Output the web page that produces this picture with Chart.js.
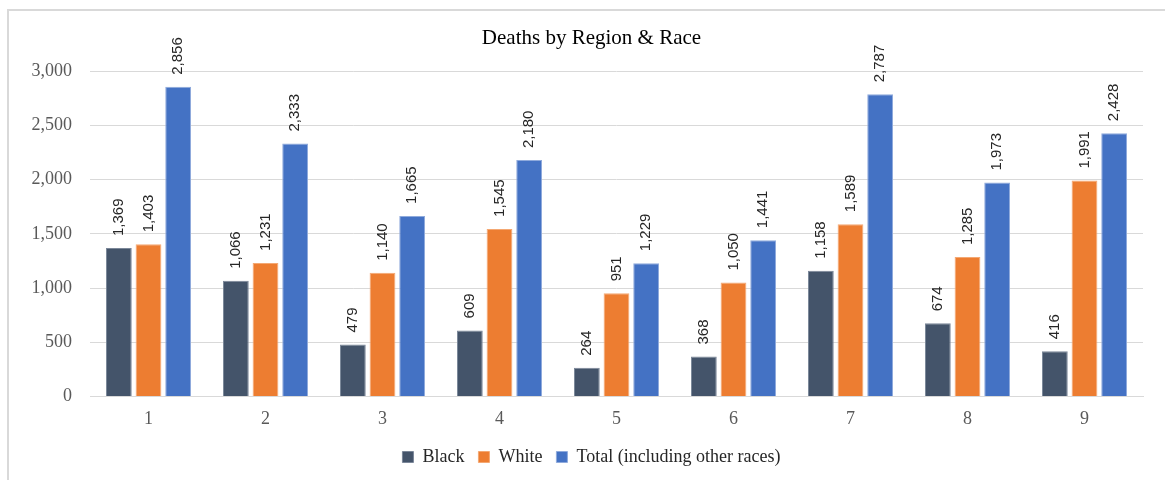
<!DOCTYPE html>
<html>
<head>
<meta charset="utf-8">
<script src="https://cdn.jsdelivr.net/npm/chart.js@4"></script>
<style>
  html, body { margin: 0; padding: 0; background: #fff; }
  #wrap { width: 1165px; height: 480px; position: relative; }
</style>
</head>
<body>
<div id="wrap"><canvas id="chart"></canvas></div>
<script>
// ── Data ──────────────────────────────────
const regions     = ["1", "2", "3", "4", "5", "6", "7", "8", "9"];
const blackDeaths = [1369, 1066, 479, 609, 264, 368, 1158, 674, 416];
const whiteDeaths = [1403, 1231, 1140, 1545, 951, 1050, 1589, 1285, 1991];
const totalDeaths = [2856, 2333, 1665, 2180, 1229, 1441, 2787, 1973, 2428];

const SERIF = "'Liberation Serif', 'Times New Roman', serif";
const SANS  = "'Liberation Sans', Arial, sans-serif";

// ── Plugins ───────────────────────────────
// light grey frame round the chart (only top + left show in the crop)
const frame = {
  id: "frame",
  beforeDraw(chart) {
    const c = chart.ctx;
    c.save();
    c.strokeStyle = "#d9d9d9";
    c.lineWidth = 2;
    c.beginPath();
    c.moveTo(8, chart.height + 5);
    c.lineTo(8, 10);
    c.lineTo(chart.width + 5, 10);
    c.stroke();
    c.restore();
  }
};

// rotated value labels above each bar
const valueLabels = {
  id: "valueLabels",
  afterDatasetsDraw(chart) {
    const c = chart.ctx;
    c.save();
    c.font = "15px " + SANS;
    c.fillStyle = "#262626";
    c.textAlign = "left";
    c.textBaseline = "middle";
    chart.data.datasets.forEach((ds, i) => {
      chart.getDatasetMeta(i).data.forEach((bar, j) => {
        c.save();
        c.translate(bar.x, bar.y - 12);
        c.rotate(-Math.PI / 2);
        c.fillText(ds.data[j].toLocaleString("en-US"), 0, 0);
        c.restore();
      });
    });
    c.restore();
  }
};

// ── Chart ─────────────────────────────────
new Chart(document.getElementById("chart"), {
  type: "bar",
  data: {
    labels: regions,
    datasets: [
      { label: "Black", data: blackDeaths, backgroundColor: "#44546A", borderColor: "#7b8799", borderWidth: 1 },
      { label: "White", data: whiteDeaths, backgroundColor: "#ED7D31", borderColor: "#f4a873", borderWidth: 1 },
      { label: "Total (including other races)", data: totalDeaths, backgroundColor: "#4472C4", borderColor: "#8faadc", borderWidth: 1 },
    ],
  },
  options: {
    responsive: true,
    maintainAspectRatio: false,
    animation: false,
    categoryPercentage: 0.76,
    barPercentage: 0.87,
    layout: { padding: { left: 40, right: 22, top: 20, bottom: 4 } },
    plugins: {
      title: {
        display: true,
        text: "Deaths by Region & Race",
        color: "#000",
        font: { family: SERIF, size: 21, weight: "normal" },
        padding: { top: 6, bottom: 20 },
      },
      legend: {
        position: "bottom",
        labels: {
          color: "#262626",
          font: { family: SERIF, size: 18 },
          boxWidth: 11,
          boxHeight: 11,
          padding: 14,
        },
      },
      tooltip: { enabled: false },
    },
    scales: {
      x: {
        afterFit: s => { s.height -= 8; },
        grid: { display: false, drawTicks: false },
        border: { color: "#d9d9d9", width: 1 },
        ticks: { color: "#595959", font: { family: SERIF, size: 18 }, padding: 12 },
      },
      y: {
        min: 0,
        max: 3000,
        afterFit: s => {
          s.width = 50;
          s._computeLabelArea = () => null;   // let the tick labels spill left
        },
        grid: { color: "#d9d9d9", drawTicks: false },
        border: { display: false },
        ticks: {
          stepSize: 500,
          color: "#595959",
          font: { family: SERIF, size: 18 },
          padding: 18,
          callback: v => v.toLocaleString("en-US"),
        },
      },
    },
  },
  plugins: [frame, valueLabels],
});
</script>
</body>
</html>
